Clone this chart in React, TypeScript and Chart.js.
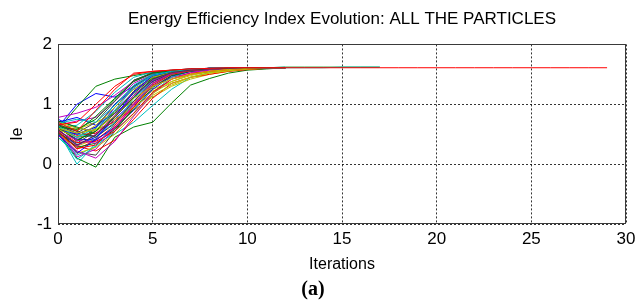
import { useEffect, useRef } from "react";
import { Chart, registerables } from "chart.js";

Chart.register(...registerables);

const TITLE = "Energy Efficiency Index Evolution: ALL THE PARTICLES";
const X_LABEL = "Iterations";
const Y_LABEL = "Ie";
const CAPTION = "(a)";
const X_TICKS = [0, 5, 10, 15, 20, 25, 30];
const Y_TICKS = [-1, 0, 1, 2];
const COLORS = ["#0000FF", "#008000", "#FF0000", "#00BFBF", "#BF00BF", "#BFBF00", "#404040"];

// Ie value of each particle, iterations 0..12 (some longer)
const P01 = [0.62, 1.0, 1.18, 1.12, 1.3, 1.5, 1.56, 1.59, 1.6, 1.6, 1.61, 1.61, 1.61];
const P02 = [0.58, 0.95, 1.3, 1.42, 1.48, 1.53, 1.56, 1.58, 1.59, 1.6, 1.61, 1.61, 1.62, 1.62, 1.62, 1.62, 1.62, 1.62];
const P03 = [0.7, 0.55, 0.9, 1.25, 1.52, 1.55, 1.57, 1.59, 1.6, 1.61, 1.61, 1.61, 1.61, 1.61, 1.61, 1.61, 1.61, 1.61, 1.61, 1.61, 1.61, 1.61, 1.61, 1.61, 1.61, 1.61, 1.61, 1.61, 1.61, 1.61];
const P04 = [0.55, 0.0, 0.35, 0.5, 0.7, 0.98, 1.25, 1.45, 1.53, 1.57, 1.59, 1.6, 1.61];
const P05 = [0.65, 0.72, 0.78, 1.05, 1.35, 1.5, 1.56, 1.58, 1.6, 1.6, 1.61, 1.61, 1.61];
const P06 = [0.5, 0.3, 0.42, 0.6, 0.9, 1.12, 1.3, 1.42, 1.5, 1.55, 1.58, 1.6, 1.61];
const P07 = [0.6, 0.45, 0.48, 0.8, 1.15, 1.42, 1.52, 1.57, 1.59, 1.6, 1.61, 1.61, 1.61];
const P08 = [0.75, 0.6, 0.55, 0.95, 1.28, 1.48, 1.55, 1.58, 1.59, 1.6, 1.61, 1.61, 1.61];
const P09 = [0.52, 0.1, -0.05, 0.45, 0.62, 0.7, 1.02, 1.32, 1.43, 1.52, 1.57, 1.59, 1.61];
const P10 = [0.58, 0.25, 0.4, 0.65, 1.0, 1.3, 1.45, 1.52, 1.55, 1.58, 1.6, 1.61, 1.61];
const P11 = [0.45, 0.15, 0.3, 0.55, 0.85, 1.2, 1.45, 1.55, 1.58, 1.6, 1.61, 1.61, 1.62];
const P12 = [0.68, 0.5, 0.62, 0.9, 1.2, 1.45, 1.55, 1.58, 1.6, 1.6, 1.61, 1.61, 1.61];
const P13 = [0.62, 0.4, 0.58, 0.7, 1.0, 1.25, 1.38, 1.48, 1.54, 1.57, 1.59, 1.6, 1.61];
const P14 = [0.55, 0.2, 0.15, 0.55, 0.95, 1.35, 1.5, 1.56, 1.59, 1.6, 1.61, 1.61, 1.61];
const P15 = [0.7, 0.78, 0.65, 0.85, 1.1, 1.4, 1.53, 1.57, 1.59, 1.6, 1.61, 1.61, 1.61];
const P16 = [0.65, 0.55, 0.8, 1.1, 1.4, 1.52, 1.56, 1.58, 1.6, 1.6, 1.61, 1.61, 1.61];
const P17 = [0.48, 0.3, 0.22, 0.4, 0.75, 1.1, 1.35, 1.45, 1.5, 1.55, 1.58, 1.6, 1.61];
const P18 = [0.6, 0.65, 0.88, 1.2, 1.45, 1.54, 1.57, 1.59, 1.6, 1.6, 1.61, 1.61, 1.61];
const P19 = [0.57, 0.12, 0.25, 0.6, 0.98, 1.3, 1.48, 1.55, 1.58, 1.6, 1.61, 1.61, 1.61];
const P20 = [0.66, 0.58, 0.7, 0.85, 1.05, 1.22, 1.35, 1.45, 1.52, 1.56, 1.59, 1.6, 1.61];
const P21 = [0.63, 0.38, 0.6, 1.0, 1.3, 1.5, 1.56, 1.58, 1.6, 1.6, 1.61, 1.61, 1.61];
const P22 = [0.53, 0.32, 0.45, 0.75, 1.05, 1.38, 1.52, 1.57, 1.59, 1.6, 1.61, 1.61, 1.61];
const P23 = [0.72, 0.62, 0.5, 0.78, 1.12, 1.42, 1.54, 1.58, 1.6, 1.6, 1.61, 1.61, 1.61];
const P24 = [0.6, 0.48, 0.52, 0.72, 1.02, 1.35, 1.52, 1.57, 1.59, 1.6, 1.61, 1.61, 1.61];
const P25 = [0.5, 0.08, 0.3, 0.68, 1.1, 1.4, 1.53, 1.57, 1.59, 1.6, 1.61, 1.61, 1.61];
const P26 = [0.78, 0.85, 0.95, 1.15, 1.38, 1.52, 1.56, 1.58, 1.6, 1.6, 1.61, 1.61, 1.61];
const P27 = [0.56, 0.18, 0.28, 0.5, 0.82, 1.15, 1.32, 1.45, 1.52, 1.56, 1.59, 1.6, 1.61];
const P28 = [0.64, 0.52, 0.7, 1.05, 1.4, 1.53, 1.57, 1.59, 1.6, 1.6, 1.61, 1.61, 1.61];
const P29 = [0.6, 0.42, 0.4, 0.62, 0.9, 1.25, 1.47, 1.55, 1.58, 1.6, 1.61, 1.61, 1.61];
const P30 = [0.54, 0.28, 0.35, 0.58, 0.92, 1.28, 1.48, 1.55, 1.58, 1.6, 1.61, 1.61, 1.61];
const P31 = [0.66, 0.7, 1.0, 1.3, 1.5, 1.55, 1.57, 1.59, 1.6, 1.6, 1.61, 1.61, 1.61];
const P32 = [0.62, 0.5, 0.45, 0.7, 1.0, 1.32, 1.5, 1.56, 1.59, 1.6, 1.61, 1.61, 1.61];
const P33 = [0.48, 0.22, 0.1, 0.38, 0.8, 1.18, 1.42, 1.53, 1.57, 1.59, 1.6, 1.61, 1.61];
const P34 = [0.7, 0.6, 0.55, 0.75, 0.95, 1.18, 1.38, 1.5, 1.55, 1.58, 1.6, 1.61, 1.61];
const P35 = [0.52, 0.35, 0.55, 0.85, 1.22, 1.47, 1.55, 1.58, 1.59, 1.6, 1.61, 1.61, 1.61];
const P36 = [0.58, 0.5, 0.62, 1.0, 1.25, 1.45, 1.54, 1.57, 1.59, 1.6, 1.61, 1.61, 1.61];
const P37 = [0.61, 0.4, 0.55, 0.88, 1.18, 1.44, 1.54, 1.58, 1.59, 1.6, 1.61, 1.61, 1.61];
const P38 = [0.56, 0.36, 0.38, 0.55, 0.85, 1.2, 1.42, 1.5, 1.55, 1.58, 1.6, 1.61, 1.61];
const P39 = [0.68, 0.75, 0.7, 0.98, 1.32, 1.5, 1.56, 1.58, 1.6, 1.6, 1.61, 1.61, 1.61, 1.61, 1.61, 1.62, 1.62, 1.62];
const P40 = [0.6, 0.3, 0.5, 0.82, 1.15, 1.4, 1.53, 1.57, 1.59, 1.6, 1.61, 1.61, 1.61];
const P41 = [0.58, 0.45, 0.65, 0.95, 1.25, 1.45, 1.53, 1.57, 1.59, 1.6, 1.61, 1.61, 1.61];
const P42 = [0.66, 0.55, 0.45, 0.68, 1.05, 1.38, 1.52, 1.57, 1.59, 1.6, 1.61, 1.61, 1.61];
const P43 = [0.5, 0.18, 0.42, 0.8, 1.2, 1.48, 1.55, 1.58, 1.6, 1.6, 1.61, 1.61, 1.61];
const P44 = [0.62, 0.58, 0.75, 1.08, 1.38, 1.52, 1.56, 1.58, 1.6, 1.6, 1.61, 1.61, 1.61];
const P45 = [0.54, 0.26, 0.32, 0.62, 0.95, 1.32, 1.5, 1.56, 1.59, 1.6, 1.61, 1.61, 1.61];
const P46 = [0.64, 0.45, 0.6, 0.9, 1.28, 1.48, 1.55, 1.58, 1.6, 1.6, 1.61, 1.61, 1.61];
const P47 = [0.55, 0.4, 0.35, 0.6, 1.0, 1.35, 1.52, 1.57, 1.59, 1.6, 1.61, 1.61, 1.61];
const P48 = [0.6, 0.52, 0.58, 0.8, 1.1, 1.3, 1.42, 1.5, 1.55, 1.58, 1.6, 1.61, 1.61];
const P49 = [0.58, 0.32, 0.48, 0.78, 1.12, 1.42, 1.53, 1.57, 1.59, 1.6, 1.61, 1.61, 1.61];

const PARTICLES = [
  P01, P02, P03, P04, P05, P06, P07, P08, P09, P10, P11, P12, P13, P14, P15, P16, P17,
  P18, P19, P20, P21, P22, P23, P24, P25, P26, P27, P28, P29, P30, P31, P32, P33, P34,
  P35, P36, P37, P38, P39, P40, P41, P42, P43, P44, P45, P46, P47, P48, P49,
];
const TOP_PARTICLE = 2; // the red trace drawn last, running to iteration 29

const framePlugin = {
  id: "frame",
  afterDraw(chart: any) {
    const { ctx, chartArea } = chart;
    const l = Math.round(chartArea.left) + 0.5;
    const t = Math.round(chartArea.top) + 0.5;
    const r = Math.round(chartArea.right) - 0.5;
    const b = Math.round(chartArea.bottom) - 0.5;
    ctx.save();
    ctx.strokeStyle = "#3a3a3a";
    ctx.lineWidth = 1;
    ctx.setLineDash([]);
    ctx.strokeRect(l, t, r - l, b - t);
    ctx.restore();
  },
};

export default function App() {
  const ref = useRef<HTMLCanvasElement | null>(null);

  useEffect(() => {
    document.body.style.margin = "0";
    const canvas = ref.current;
    if (!canvas) return;
    const n = PARTICLES.length;
    const datasets = PARTICLES.map((vals, i) => ({
      label: "P" + (i + 1),
      data: vals.map((v, k) => ({ x: k, y: v })),
      borderColor: COLORS[i % COLORS.length],
      backgroundColor: COLORS[i % COLORS.length],
      borderWidth: 1,
      pointRadius: 0,
      tension: 0,
      fill: false,
      order: i === TOP_PARTICLE ? -1 : n - i,
    }));

    const font = "'Liberation Sans', Arial, sans-serif";
    const chart = new Chart(canvas, {
      type: "line",
      data: { datasets },
      plugins: [framePlugin],
      options: {
        animation: false,
        responsive: false,
        events: [],
        layout: { padding: { left: 0, right: 10, top: 0, bottom: 0 } },
        plugins: {
          legend: { display: false },
          tooltip: { enabled: false },
          title: {
            display: true,
            text: TITLE,
            color: "#000",
            fullSize: false,
            font: { family: font, size: 17, weight: "normal" },
            padding: { top: 9, bottom: 15 },
          },
          subtitle: {
            display: true,
            text: CAPTION,
            position: "bottom",
            color: "#000",
            font: { family: "'Liberation Serif', 'DejaVu Serif', serif", size: 20, weight: "bold" },
            padding: { top: 0, bottom: 0 },
          },
        },
        scales: {
          x: {
            type: "linear",
            min: 0,
            max: 30,
            afterBuildTicks: (s: any) => {
              s.ticks = X_TICKS.map((v) => ({ value: v }));
            },
            afterFit: (s: any) => {
              s.height = 54;
              s.paddingRight = 0;
              s.paddingLeft = 0;
            },
            ticks: {
              color: "#000",
              font: { family: font, size: 17 },
              padding: 5,
              maxRotation: 0,
            },
            grid: {
              color: "rgba(0,0,0,0.8)",
              lineWidth: 1,
              drawTicks: false,
            },
            border: { display: false, dash: [2, 2] },
            title: {
              display: true,
              text: X_LABEL,
              color: "#000",
              font: { family: font, size: 16 },
              padding: { top: 0, bottom: 4 },
            },
          },
          y: {
            type: "linear",
            min: -1,
            max: 2,
            afterBuildTicks: (s: any) => {
              s.ticks = Y_TICKS.map((v) => ({ value: v }));
            },
            afterFit: (s: any) => {
              s.width = 58;
            },
            ticks: {
              color: "#000",
              font: { family: font, size: 17 },
              padding: 6,
            },
            grid: {
              color: "rgba(0,0,0,0.8)",
              lineWidth: 1,
              drawTicks: false,
            },
            border: { display: false, dash: [2, 2] },
            title: {
              display: true,
              text: Y_LABEL,
              color: "#000",
              font: { family: font, size: 16 },
              padding: { top: 8, bottom: 0 },
            },
          },
        },
      },
    });
    return () => chart.destroy();
  }, []);

  return (
    <div style={{ width: 636, height: 302, background: "#fff" }}>
      <canvas ref={ref} width={636} height={302} style={{ display: "block" }} />
    </div>
  );
}
